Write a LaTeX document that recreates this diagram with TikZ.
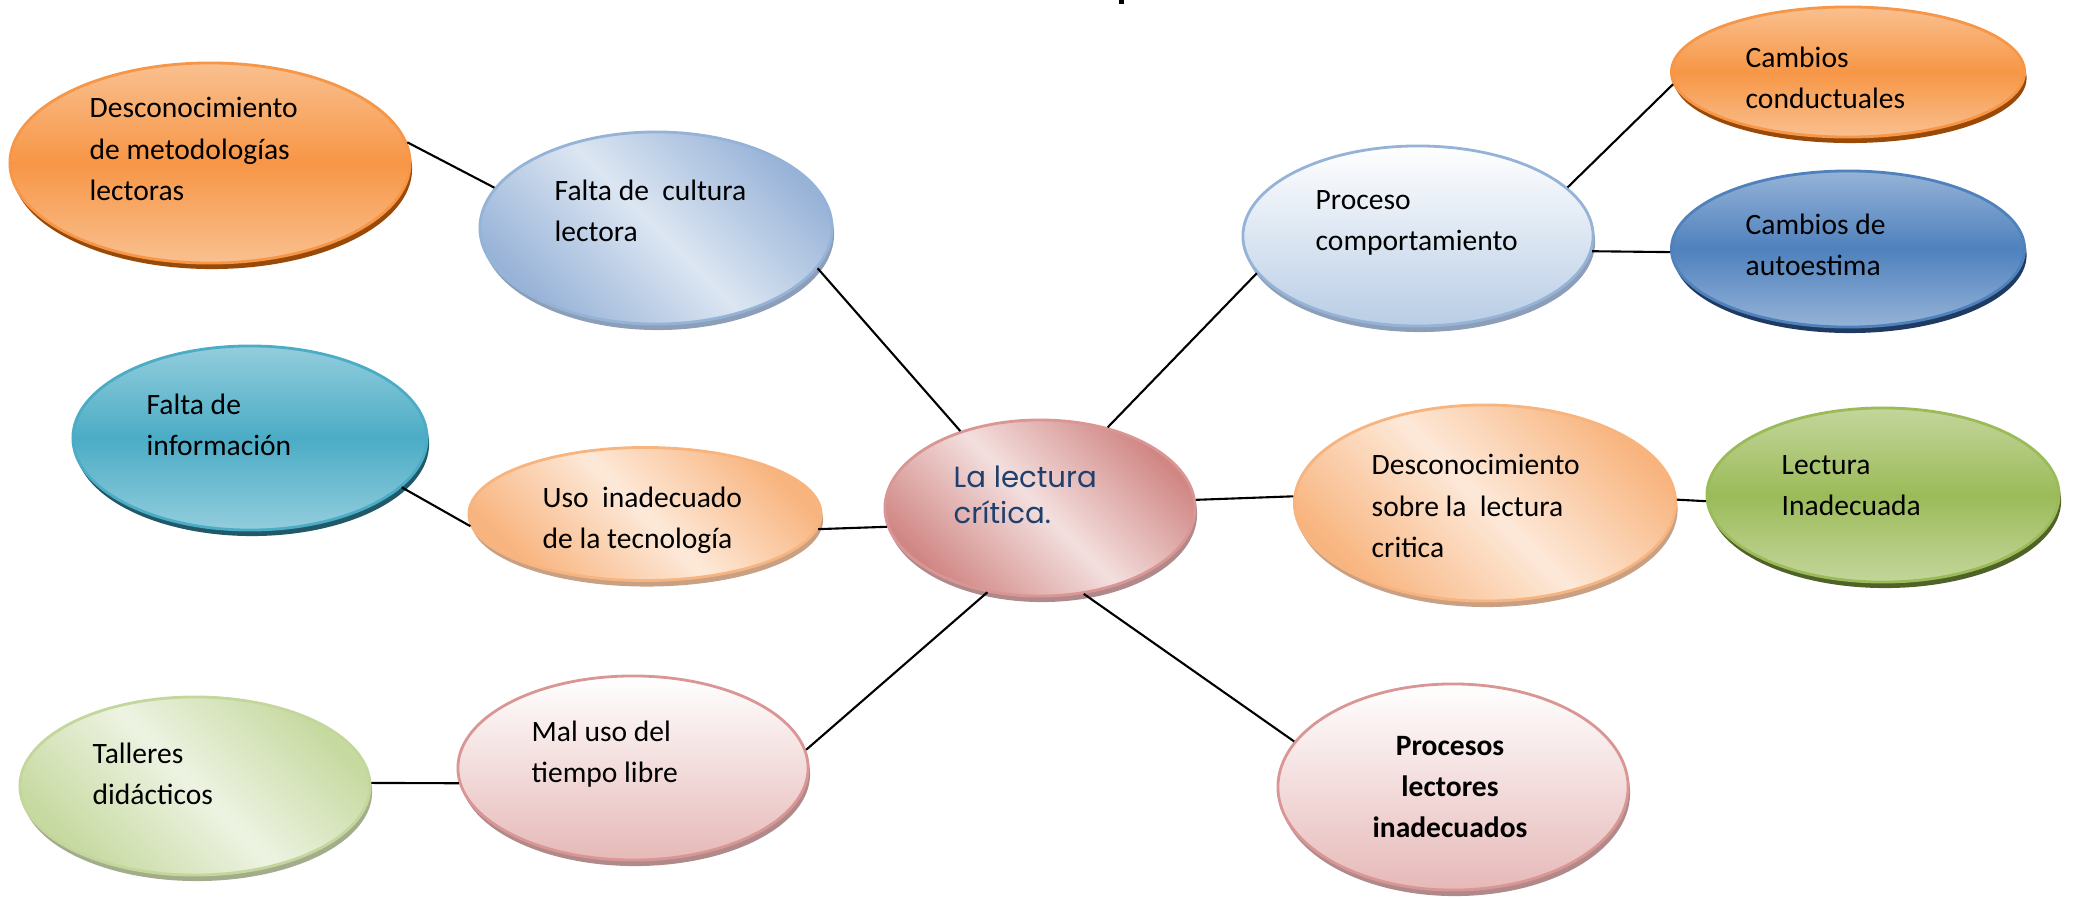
\documentclass[tikz,border=0pt]{standalone}
\usepackage{fontspec}
\setmainfont{Carlito}
\newfontfamily\gothic{Poppins}
\usetikzlibrary{shapes.geometric, shadows, positioning}

\definecolor{orglight}{HTML}{F9C08F}
\definecolor{orgmid}{HTML}{F79646}
\definecolor{orgdark}{HTML}{9A4A08}
\definecolor{tealight}{HTML}{93CDDD}
\definecolor{tealmid}{HTML}{4BACC6}
\definecolor{tealdark}{HTML}{215968}
\definecolor{bluelight}{HTML}{95B3D7}
\definecolor{bluemid}{HTML}{4F81BD}
\definecolor{bluedark}{HTML}{1F3B62}
\definecolor{grnlight}{HTML}{C3D69B}
\definecolor{grnmid}{HTML}{9BBB59}
\definecolor{grndark}{HTML}{4F6228}
\definecolor{skydark}{HTML}{98B3D8}
\definecolor{skylight}{HTML}{DCE6F2}
\definecolor{skyshadow}{HTML}{8D9FB8}
\definecolor{peachdark}{HTML}{F8B47E}
\definecolor{peachlight}{HTML}{FDE9D9}
\definecolor{peachshadow}{HTML}{C8A083}
\definecolor{sagedark}{HTML}{C6D99F}
\definecolor{sagelight}{HTML}{EDF3E2}
\definecolor{sageshadow}{HTML}{A3AD8C}
\definecolor{rosedark}{HTML}{D99694}
\definecolor{rosedeep}{HTML}{D08683}
\definecolor{roselight}{HTML}{F3DFDE}
\definecolor{rosebottom}{HTML}{E6B9B8}
\definecolor{roseshadow}{HTML}{B08A8A}
\definecolor{paleblue}{HTML}{B9CDE5}
\definecolor{inkblue}{HTML}{1F3F6E}

\tikzset{
  bub/.style={ellipse, inner sep=0, line width=0.8pt},
  shadow of/.style={drop shadow={shadow xshift=0.02cm, shadow yshift=-0.06cm, fill=#1, opacity=1}},
  bub band/.style n args={3}{bub, draw=#2, top color=#1, bottom color=#1, middle color=#2, shadow of=#3},
  bub diag/.style n args={4}{bub, draw=#3, top color=#1, bottom color=#1, middle color=#2, shading angle=-45, shadow of=#4},
  bub fade/.style n args={3}{bub, draw=#2, top color=white, bottom color=#1, shadow of=#3},
  txt/.style={inner sep=0, anchor=west, align=left, font=\fontsize{8.4}{11.7}\selectfont},
  link/.style={line width=0.6pt, black}
}

\begin{document}
\begin{tikzpicture}[x=0.01cm, y=-0.01cm]
  \useasboundingbox (0,0) rectangle (2073,897);

  % left side
  \node[bub band={orglight}{orgmid}{orgdark}, minimum width=4.00cm, minimum height=2.00cm] (des1) at (210,163) {};
  \node[bub diag={skydark}{skylight}{bluelight}{skyshadow}, minimum width=3.52cm, minimum height=1.92cm] (cultura) at (656,228) {};
  \node[bub band={tealight}{tealmid}{tealdark}, minimum width=3.54cm, minimum height=1.84cm] (info) at (250,438) {};
  \node[bub diag={peachdark}{peachlight}{peachdark}{peachshadow}, minimum width=3.52cm, minimum height=1.33cm] (uso) at (645,514) {};
  \node[bub diag={sagedark}{sagelight}{grnlight}{sageshadow}, minimum width=3.50cm, minimum height=1.78cm] (talleres) at (195,786) {};
  \node[bub fade={rosebottom}{rosedark}{roseshadow}, minimum width=3.50cm, minimum height=1.84cm] (maluso) at (633,768) {};

  % centre
  \node[bub diag={rosedeep}{roselight}{rosedark}{roseshadow}, minimum width=3.10cm, minimum height=1.76cm] (lc) at (1040,508) {};

  % right side
  \node[bub fade={paleblue}{bluelight}{skyshadow}, minimum width=3.50cm, minimum height=1.80cm] (proceso) at (1418,236) {};
  \node[bub band={orglight}{orgmid}{orgdark}, minimum width=3.53cm, minimum height=1.30cm] (conduct) at (1848,72) {};
  \node[bub band={bluelight}{bluemid}{bluedark}, minimum width=3.53cm, minimum height=1.56cm] (autoest) at (1848,249) {};
  \node[bub diag={peachdark}{peachlight}{peachdark}{peachshadow}, minimum width=3.81cm, minimum height=1.96cm] (des2) at (1485,503) {};
  \node[bub band={grnlight}{grnmid}{grndark}, minimum width=3.52cm, minimum height=1.74cm] (inadec) at (1883,495) {};
  \node[bub fade={rosebottom}{rosedark}{roseshadow}, minimum width=3.50cm, minimum height=2.06cm] (procesos) at (1453,787) {};

  % texts
  \node[txt] (t-des1) at (89,149) {Desconocimiento\\de metodologías\\lectoras};
  \node[txt] (t-cultura) at (554,211) {Falta de\ \ cultura\\lectora};
  \node[txt] (t-info) at (146,425) {Falta de\\información};
  \node[txt] (t-uso) at (542,520) {Uso\ \ inadecuado\\de la tecnología};
  \node[txt] (t-talleres) at (92,774) {Talleres\\didácticos};
  \node[txt] (t-maluso) at (531,754) {Mal uso del\\tiempo libre};
  \node[txt, text=inkblue, font=\gothic\fontsize{8.3}{10.2}\selectfont] (t-lc) at (953,495) {La lectura\\crítica.};
  \node[txt] (t-proceso) at (1315,223) {Proceso\\comportamiento};
  \node[txt] (t-conduct) at (1745,78) {Cambios\\conductuales};
  \node[txt] (t-autoest) at (1745,245) {Cambios de\\autoestima};
  \node[txt] (t-des2) at (1371,506) {Desconocimiento\\sobre la\ \ lectura\\critica};
  \node[txt] (t-inadec) at (1781,486) {Lectura\\Inadecuada};
  \node[txt, anchor=center, align=center, font=\bfseries\fontsize{8.4}{11.7}\selectfont] (t-procesos) at (1450,787) {Procesos\\lectores\\inadecuados};

  % connectors
  \draw[link] (des1.6) -- (cultura.166);
  \draw[link] (cultura.-14) -- (lc.136);
  \draw[link] (info.-18) -- (uso.184);
  \draw[link] (uso.-5) -- (lc.187);
  \draw[link] (talleres.1) -- (maluso.185);
  \draw[link] (maluso.6) -- (lc.238);
  \draw[link] (lc.50) -- (proceso.193);
  \draw[link] (proceso.18) -- (conduct.184);
  \draw[link] (proceso.-5) -- (autoest.181);
  \draw[link] (lc.3) -- (des2.178);
  \draw[link] (des2.1) -- (inadec.182);
  \draw[link] (lc.-63) -- (procesos.164);

  % cut-off title stroke
  \fill (1119,0) rectangle (1124,4);
\end{tikzpicture}
\end{document}
